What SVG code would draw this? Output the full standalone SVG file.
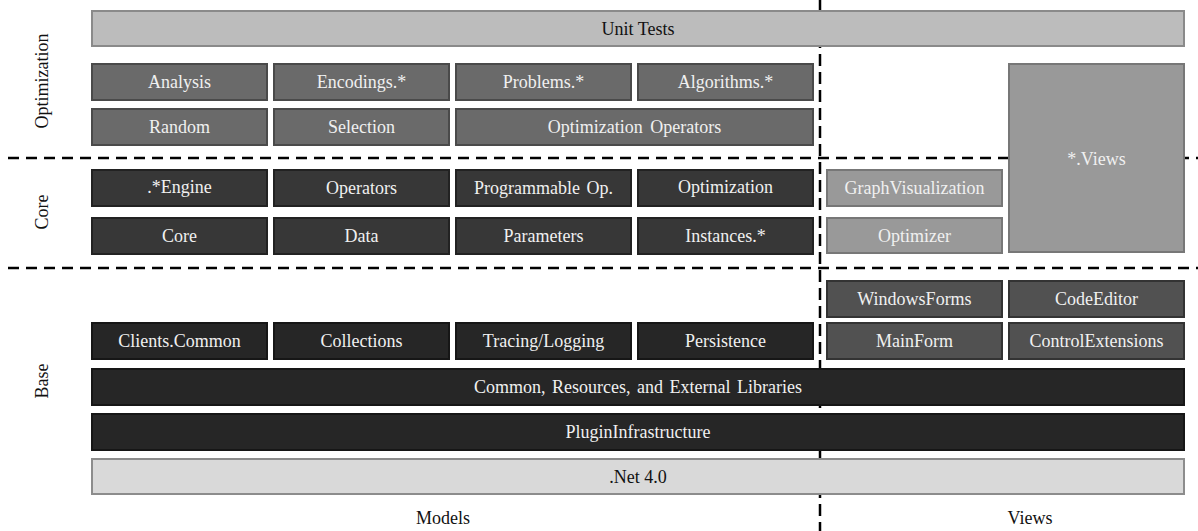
<svg xmlns="http://www.w3.org/2000/svg" width="1198" height="531" viewBox="0 0 1198 531">
<style>
text{font-size:18px;text-anchor:middle}
.dash{stroke:#000;stroke-width:2.5;fill:none}
.ut rect{fill:#bcbcbc;stroke:#8a8a8a;stroke-width:2}
.ut text,.net text,.lbl{fill:#111}
.opt rect{fill:#6a6a6a;stroke:#4a4a4a;stroke-width:2}
.core rect{fill:#373737;stroke:#222;stroke-width:2}
.vl rect{fill:#999;stroke:#777;stroke-width:2}
.vd rect{fill:#515151;stroke:#333;stroke-width:2}
.base rect{fill:#262626;stroke:#161616;stroke-width:2}
.net rect{fill:#d9d9d9;stroke:#8c8c8c;stroke-width:2}
.opt text,.core text,.vl text,.vd text,.base text{fill:#f0f0f0}
</style>
<g id="dividers">
<line class="dash" x1="8" y1="158" x2="1198" y2="158" stroke-dasharray="11,7"/>
<line class="dash" x1="8" y1="268" x2="1198" y2="268" stroke-dasharray="11,7"/>
<line class="dash" x1="820" y1="0" x2="820" y2="531" stroke-dasharray="12,6"/>
</g>
<g id="diagram" font-family="'Liberation Serif', 'DejaVu Serif', serif">
<g id="labels">
<text class="lbl" transform="translate(48,81) rotate(-90)">Optimization</text>
<text class="lbl" transform="translate(48,212) rotate(-90)">Core</text>
<text class="lbl" transform="translate(48,381) rotate(-90)">Base</text>
<text class="lbl" x="443" y="524">Models</text>
<text class="lbl" x="1030" y="524">Views</text>
</g>
<g id="unit-tests" class="ut"><rect x="92" y="11" width="1092" height="35"/><text x="638" y="35">Unit Tests</text></g>
<g id="analysis" class="opt"><rect x="92" y="64" width="175" height="36"/><text x="179.5" y="88">Analysis</text></g>
<g id="encodings" class="opt"><rect x="274" y="64" width="175" height="36"/><text x="361.5" y="88">Encodings.*</text></g>
<g id="problems" class="opt"><rect x="456" y="64" width="175" height="36"/><text x="543.5" y="88">Problems.*</text></g>
<g id="algorithms" class="opt"><rect x="638" y="64" width="175" height="36"/><text x="725.5" y="88">Algorithms.*</text></g>
<g id="random" class="opt"><rect x="92" y="109" width="175" height="36"/><text x="179.5" y="133">Random</text></g>
<g id="selection" class="opt"><rect x="274" y="109" width="175" height="36"/><text x="361.5" y="133">Selection</text></g>
<g id="optimization-operators" class="opt"><rect x="456" y="109" width="357" height="36"/><text x="634.5" y="133" word-spacing="3">Optimization Operators</text></g>
<g id="views" class="vl"><rect x="1009" y="64" width="175" height="188"/><text x="1096.5" y="165">*.Views</text></g>
<g id="engine" class="core"><rect x="92" y="170" width="175" height="36"/><text x="179.5" y="193">.*Engine</text></g>
<g id="operators" class="core"><rect x="274" y="170" width="175" height="36"/><text x="361.5" y="194">Operators</text></g>
<g id="programmable-op" class="core"><rect x="456" y="170" width="175" height="36"/><text x="543.5" y="194" word-spacing="2">Programmable Op.</text></g>
<g id="optimization" class="core"><rect x="638" y="170" width="175" height="36"/><text x="725.5" y="193">Optimization</text></g>
<g id="graphvisualization" class="vl"><rect x="827" y="170" width="175" height="36"/><text x="914.5" y="194">GraphVisualization</text></g>
<g id="core" class="core"><rect x="92" y="218" width="175" height="36"/><text x="179.5" y="242">Core</text></g>
<g id="data" class="core"><rect x="274" y="218" width="175" height="36"/><text x="361.5" y="242">Data</text></g>
<g id="parameters" class="core"><rect x="456" y="218" width="175" height="36"/><text x="543.5" y="242">Parameters</text></g>
<g id="instances" class="core"><rect x="638" y="218" width="175" height="36"/><text x="725.5" y="242">Instances.*</text></g>
<g id="optimizer" class="vl"><rect x="827" y="218" width="175" height="35"/><text x="914.5" y="242">Optimizer</text></g>
<g id="windowsforms" class="vd"><rect x="827" y="281" width="175" height="36"/><text x="914.5" y="305">WindowsForms</text></g>
<g id="codeeditor" class="vd"><rect x="1009" y="281" width="175" height="36"/><text x="1096.5" y="305">CodeEditor</text></g>
<g id="clients-common" class="base"><rect x="92" y="323" width="175" height="36"/><text x="179.5" y="347">Clients.Common</text></g>
<g id="collections" class="base"><rect x="274" y="323" width="175" height="36"/><text x="361.5" y="347">Collections</text></g>
<g id="tracing-logging" class="base"><rect x="456" y="323" width="175" height="36"/><text x="543.5" y="347">Tracing/Logging</text></g>
<g id="persistence" class="base"><rect x="638" y="323" width="175" height="36"/><text x="725.5" y="347">Persistence</text></g>
<g id="mainform" class="vd"><rect x="827" y="323" width="175" height="36"/><text x="914.5" y="347">MainForm</text></g>
<g id="controlextensions" class="vd"><rect x="1009" y="323" width="175" height="36"/><text x="1096.5" y="347">ControlExtensions</text></g>
<g id="common" class="base"><rect x="92" y="369" width="1092" height="36"/><text x="638" y="393" word-spacing="2">Common, Resources, and External Libraries</text></g>
<g id="plugininfrastructure" class="base"><rect x="92" y="414" width="1092" height="36"/><text x="638" y="438">PluginInfrastructure</text></g>
<g id="net" class="net"><rect x="92" y="459" width="1092" height="35"/><text x="638" y="483">.Net 4.0</text></g>
</g>
</svg>
